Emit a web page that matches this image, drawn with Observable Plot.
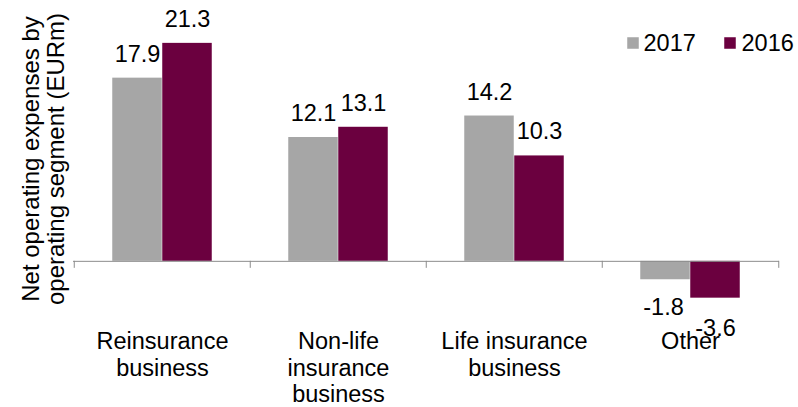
<!DOCTYPE html>
<html>
<head>
<meta charset="utf-8">
<script src="https://cdn.jsdelivr.net/npm/d3@7"></script>
<script src="https://cdn.jsdelivr.net/npm/@observablehq/plot@0.6"></script>
<style>
  html, body { margin: 0; padding: 0; background: #fff; }
  #chart { width: 798px; height: 407px; }
</style>
</head>
<body>
<div id="chart"></div>
<script>
const categories = ["Reinsurance\nbusiness", "Non-life\ninsurance\nbusiness", "Life insurance\nbusiness", "Other"];
const years = ["2017", "2016"];
const values2017 = [17.9, 12.1, 14.2, -1.8];
const values2016 = [21.3, 13.1, 10.3, -3.6];
const colors = ["#a6a6a6", "#6b003f"];
const yTitle = "Net operating expenses by\noperating segment (EURm)";

const data = [];
categories.forEach((c, i) => {
  data.push({category: c, year: years[0], value: values2017[i]});
  data.push({category: c, year: years[1], value: values2016[i]});
});

const W = 798, H = 407;
const mL = 73, mR = 19, mT = 5, mB = 95;
const band = (W - mL - mR) / categories.length;
const barW = 50;
const half = band / 2;
const fs = 23.5;
const font = "'Liberation Sans', Arial, sans-serif";

const d17 = data.filter(d => d.year === years[0]);
const d16 = data.filter(d => d.year === years[1]);

// legend layout offsets from the frame's top-right corner
const legendSquareDx = [-146.5, -49.5];
const legendTextDx = [-136, -38];

const legendMarks = years.flatMap((y, i) => [
  Plot.dot([y], {frameAnchor: "top-right", symbol: "square", r: 6.5, fill: colors[i], dx: legendSquareDx[i], dy: 37.5}),
  Plot.text([y], {frameAnchor: "top-right", text: d => d, textAnchor: "start", lineAnchor: "middle", dx: legendTextDx[i], dy: 38, fontSize: fs, fill: "#000"})
]);

const chart = Plot.plot({
  width: W,
  height: H,
  marginLeft: mL,
  marginRight: mR,
  marginTop: mT,
  marginBottom: mB,
  style: {fontFamily: font, fontSize: fs + "px", background: "#fff", overflow: "visible"},
  x: {type: "band", domain: categories, padding: 0, axis: null},
  y: {domain: [-5, 25], axis: null},
  marks: [
    Plot.barY(d17, {x: "category", y: "value", fill: colors[0], insetLeft: half - barW, insetRight: half}),
    Plot.barY(d16, {x: "category", y: "value", fill: colors[1], insetLeft: half, insetRight: half - barW}),
    Plot.ruleY([0], {stroke: "#8c8c8c", strokeWidth: 1}),
    Plot.ruleX(categories, {x: d => d, y1: 0, y2: 0, insetBottom: -7, dx: -half, stroke: "#8c8c8c"}),
    Plot.ruleX([categories[categories.length - 1]], {x: d => d, y1: 0, y2: 0, insetBottom: -7, dx: half, stroke: "#8c8c8c"}),
    // value labels
    Plot.text(d17.filter(d => d.value >= 0), {x: "category", y: "value", text: d => d.value.toFixed(1), dx: -barW / 2, dy: -16.5, lineAnchor: "bottom", fontSize: fs, fill: "#000"}),
    Plot.text(d16.filter(d => d.value >= 0), {x: "category", y: "value", text: d => d.value.toFixed(1), dx: barW / 2, dy: -16.5, lineAnchor: "bottom", fontSize: fs, fill: "#000"}),
    Plot.text(d17.filter(d => d.value < 0), {x: "category", y: "value", text: d => d.value.toFixed(1), dx: -barW / 2 - 2, dy: 35, lineAnchor: "bottom", fontSize: fs, fill: "#000"}),
    Plot.text(d16.filter(d => d.value < 0), {x: "category", y: "value", text: d => d.value.toFixed(1), dx: barW / 2, dy: 38, lineAnchor: "bottom", fontSize: fs, fill: "#000"}),
    // category labels
    Plot.text(categories, {x: d => d, frameAnchor: "bottom", lineAnchor: "top", dy: 17.5, lineHeight: 1.135, fontSize: fs, fill: "#000", text: d => d}),
    // y title
    Plot.text([yTitle], {frameAnchor: "left", textAnchor: "middle", lineAnchor: "middle", rotate: -90, dx: -30, dy: 0, lineHeight: 1.04, fontSize: 24, fill: "#000", text: d => d}),
    ...legendMarks
  ]
});

document.getElementById("chart").appendChild(chart);
</script>
</body>
</html>
